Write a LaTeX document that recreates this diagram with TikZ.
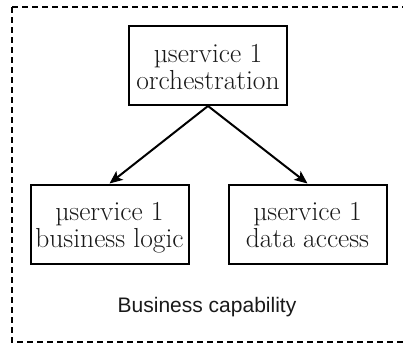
\documentclass[tikz,border=0pt]{standalone}
\usepackage{fontspec}
\newfontfamily\capfont{Liberation Sans}
\usetikzlibrary{arrows.meta}
\tikzset{
  svcbox/.style={draw=black, line width=2pt, rectangle, minimum width=158pt,
    minimum height=79pt, inner sep=0pt, align=center, text=black!90,
    font=\fontsize{27.5}{27}\selectfont, text height=47pt, text depth=0pt},
  flow/.style={line width=2pt, -{Stealth[length=13pt,width=11pt,inset=3pt]}},
  capframe/.style={draw=black, line width=2pt, dash pattern=on 6pt off 4pt}
}
\begin{document}
\begin{tikzpicture}[x=1pt,y=-1pt]
  \useasboundingbox (0,0) rectangle (403,343);
  % dashed capability boundary (open past the right edge)
  \begin{scope}
    \clip (0,0) rectangle (403,343);
    \draw[capframe] (11.5,7) rectangle (420,341.5);
  \end{scope}
  % services
  \node[svcbox] (orch) at (208,65.5) {\textmu service \oldstylenums{1}\\orchestration};
  \node[svcbox] (logic) at (109.5,224) {\textmu service \oldstylenums{1}\\business logic};
  \node[svcbox] (data) at (307.5,224) {\textmu service \oldstylenums{1}\\data access};
  % calls
  \draw[flow] (orch.south) -- (logic.north);
  \draw[flow] (orch.south) -- (data.north);
  % caption
  \node[font=\capfont\fontsize{21}{25}\selectfont, text=black!90, anchor=base] (cap) at (207,312) {Business capability};
\end{tikzpicture}
\end{document}
